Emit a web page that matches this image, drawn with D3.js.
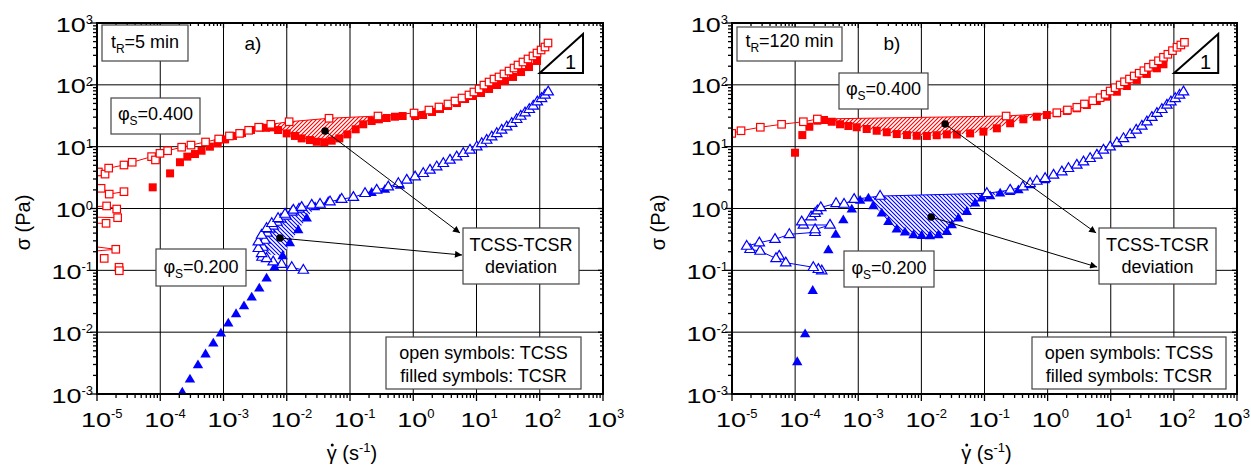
<!DOCTYPE html>
<html><head><meta charset="utf-8">
<script src="https://cdn.jsdelivr.net/npm/d3@7"></script>
<style>body{margin:0;background:#fff} text{font-family:"Liberation Sans",Arial,sans-serif;fill:#000}</style>
</head><body><svg id="c" width="1251" height="470"></svg>
<script>
// ---------- tick exponents ----------
const xTickExps = [-5,-4,-3,-2,-1,0,1,2,3];
const yTickExps = [-3,-2,-1,0,1,2,3];

// ---------- panel a) tR = 5 min ----------
const aRedOpen = [[1.05e-5,3.9],[1.34e-5,3.6],[1.53e-5,4.5],[2.67e-5,5.05],[3.6e-5,5.6],[7.3e-5,6.9],[8.4e-5,6.1],[9.9e-5,7.8],[1.31e-4,8.6],[2.18e-4,9.8],[3.06e-4,10.6],[5.2e-4,11.9],[8.4e-4,13.3],[1.24e-3,14.9],[1.8e-3,16.4],[2.5e-3,18.4],[3.6e-3,20.6],[5.6e-3,23],[0.0109,25.3],[0.0466,28.8],[0.277,31.3],[1.03,35],[1.77,39.1],[2.55,43.8],[3.54,49],[4.57,54.7],[5.9,61.2],[7.6,68.5],[9.1,76.6],[11,85.7],[13.1,99],[15.8,111],[18.9,124],[22.7,134],[27.2,150],[32.7,167],[39.2,187],[45.3,209],[54.3,234],[65.2,262],[78.2,293],[90.5,327],[105,366],[121,409],[135,475]];
const aRedOpenLow = [
  [[7e-6,2.3],[1.16e-5,2.12]],
  [[1.56e-5,1.71],[2.67e-5,1.87]],
  [[7e-6,1.05],[1.42e-5,1.1],[2.05e-5,0.98]],
  [[7e-6,0.73],[2.12e-5,0.71]],
  [[7e-6,0.58],[1.39e-5,0.576]],
  [[7e-6,0.25],[1.98e-5,0.219],[7e-6,0.2]],
  [[1.3e-5,0.156]],
  [[2.23e-5,0.112],[2.25e-5,0.0986]]
];
const aRedFilled = [[7.6e-5,2.2],[1.43e-4,3.7],[2.05e-4,5.6],[2.68e-4,6.9],[3.54e-4,7.6],[4.5e-4,8.6],[6.1e-4,10],[8.1e-4,11.3],[1.06e-3,13.1],[1.41e-3,14.9],[1.96e-3,16.6],[2.72e-3,18.6],[3.8e-3,20.4],[4.7e-3,20.2],[5.8e-3,20.5],[7.3e-3,18.6],[9.98e-3,16.4],[0.0135,14.9],[0.0172,13.6],[0.0233,12.8],[0.0298,12],[0.0393,11.8],[0.0514,12.5],[0.0678,13.6],[0.0906,15.8],[0.123,19.1],[0.162,23],[0.22,26],[0.287,27.7],[0.38,29.1],[0.514,30.5],[0.68,31.3],[1.07,31.3],[1.43,32.5],[1.98,36.4],[2.65,40.7],[3.54,45.5],[4.9,50.8],[6.6,59],[8.8,66],[11.8,73.8],[15.8,85.7],[21.1,99.4],[28.2,115],[37.8,134],[50.6,161],[67.6,194],[90.5,243]];
const aBlueOpen = [[0.0183,0.101],[0.012,0.112],[8.3e-3,0.126],[6.1e-3,0.138],[4.8e-3,0.156],[4.0e-3,0.188],[3.55e-3,0.227],[3.55e-3,0.29],[4.0e-3,0.372],[4.8e-3,0.478],[5.8e-3,0.576],[7.3e-3,0.694],[9.4e-3,0.814],[0.0127,0.946],[0.0172,1.05],[0.0248,1.14],[0.0336,1.18],[0.0483,1.29],[0.074,1.42],[0.113,1.52],[0.173,1.76],[0.264,1.99],[0.403,2.25],[0.581,2.55],[0.789,2.89],[1.07,3.27],[1.44,3.71],[1.84,4.2],[2.35,4.75],[2.99,5.38],[3.81,6.09],[4.86,6.88],[6.18,7.81],[7.89,8.84],[10.1,10],[12.1,11.3],[14.5,12.8],[17.4,14.5],[20.9,16.4],[25,18.6],[30,21],[36,23.9],[43.2,27.7],[50,31.3],[58.5,35.4],[68.4,40.2],[79,45.5],[91.5,53.4],[107,60.5],[121,68.5],[136,77.4]];
const aBlueOpen2 = [[4.06e-3,0.164],[4.2e-3,0.238],[4.5e-3,0.309],[4.9e-3,0.402],[5.4e-3,0.466],[6.1e-3,0.521],[7e-3,0.604],[8.1e-3,0.676],[9.7e-3,0.757],[0.0121,0.877],[0.0156,0.981]];
const aBlueFilled = [[2.23e-4,1.06e-3],[2.95e-4,1.73e-3],[3.95e-4,2.94e-3],[5.2e-4,4.4e-3],[6.9e-4,6.6e-3],[9.1e-4,9.6e-3],[1.19e-3,0.0139],[1.58e-3,0.0197],[2.11e-3,0.0265],[2.79e-3,0.0366],[3.68e-3,0.0512],[4.8e-3,0.0743],[6.4e-3,0.112],[8.6e-3,0.171],[0.0112,0.277],[0.0152,0.449],[0.0207,0.694],[0.028,1.06],[0.0454,1.29],[0.0695,1.41],[0.113,1.55],[0.22,1.8],[0.357,2.03],[0.618,2.35]];

// ---------- panel b) tR = 120 min ----------
const bRedOpen = [[9.9e-6,16.4],[1.39e-5,18.1],[2.81e-5,20.6],[6.1e-5,23],[1.35e-4,25.3],[2.25e-4,28],[0.22,31.3],[1.4,35.4],[2.06,39.2],[2.9,43.3],[3.83,49],[5.2,55.4],[6.79,61.9],[8.15,70.3],[9.78,79.4],[11.7,89.9],[14.1,99.4],[16.5,112],[19.8,124],[23.5,139],[28.2,154],[33.5,169],[39.6,192],[47.6,217],[57,245],[68.4,279],[80.3,312],[95,357],[112,405],[129,441],[147,487]];
const bRedFilled = [[9.96e-5,7.98],[1.3e-4,15.4],[1.68e-4,21],[2.25e-4,26.3],[2.87e-4,27],[3.8e-4,25.3],[5.15e-4,23],[6.97e-4,21.6],[9.46e-4,20.6],[1.36e-3,19.3],[1.96e-3,18.1],[2.83e-3,17.1],[4.07e-3,16],[5.9e-3,15.4],[8.45e-3,15],[0.0122,14.9],[0.0175,15.3],[0.0253,15.8],[0.0364,15.7],[0.0592,16.4],[0.0962,17.5],[0.157,19.8],[0.255,23.9],[0.413,27.7],[0.674,30.5],[0.97,32.5],[1.4,34.7],[2.01,37.8],[2.9,41.7],[4.18,47.2],[6.02,54.7],[8.67,64.3],[12.5,77.4],[18,95.7],[25.9,120],[37.3,150],[53.8,185],[68.4,215]];
const bBlueOpen = [[2.64e-4,0.0986],[2.33e-4,0.104],[1.94e-4,0.112],[7.1e-5,0.133],[5.6e-5,0.171],[4.98e-5,0.156],[2.78e-5,0.205],[1.93e-5,0.219],[1.71e-5,0.247],[2.71e-5,0.28],[4.8e-5,0.318],[8.1e-5,0.382],[2.07e-4,0.412],[2.07e-4,0.457],[3.57e-4,0.541],[1.35e-4,0.541],[1.27e-4,0.611],[1.79e-4,0.736],[2.07e-4,0.836],[2.25e-4,0.92],[2.55e-4,1.04],[4.45e-4,1.21],[5.96e-4,1.18],[8.6e-4,1.41],[2.22e-3,1.59],[0.109,1.76],[0.255,1.99],[0.405,2.25],[0.528,2.55],[0.675,2.78],[0.913,3.08],[1.24,3.48],[1.68,3.94],[2.14,4.47],[2.9,5.05],[3.7,5.71],[4.72,6.48],[6.03,7.33],[7.66,8.83],[9.78,9.98],[12.5,11.6],[15.9,13.6],[20.3,15.8],[25.3,18.6],[31.1,21.6],[37.3,25.3],[44.8,29.9],[53.8,34.7],[64.6,40.2],[77.5,47.2],[89.7,53.4],[105,60.5],[123,68.5],[142,77.4]];
const bBlueFilled = [[1.08e-4,3.3e-3],[1.44e-4,9.3e-3],[1.9e-4,0.0468],[3.36e-4,0.213],[4.4e-4,0.38],[5.8e-4,0.651],[7.9e-4,0.97],[1.07e-3,1.34],[1.45e-3,1.46],[1.73e-3,1.1],[2.36e-3,0.836],[3e-3,0.611],[4.07e-3,0.46],[5.5e-3,0.412],[7.5e-3,0.372],[0.0101,0.363],[0.0137,0.359],[0.0186,0.372],[0.0253,0.421],[0.0303,0.541],[0.0386,0.694],[0.0524,0.887],[0.071,1.21],[0.0906,1.46],[0.123,1.59],[0.177,1.76],[0.255,1.87],[0.345,1.99],[0.528,2.4],[0.913,2.89]];

// annotation anchors (data coordinates): dot -> arrow end
const aArrows = [[[0.0403,17.9],[5.48,0.402]],[[7.8e-3,0.333],[5.9,0.177]]];
const bArrows = [[[0.0238,23.2],[5.87,0.402]],[[0.0143,0.728],[6.08,0.113]]];
const aSlope = [[100,155],[483,664],[483,155]];
const bSlope = [[101,155],[504,664],[504,155]];

const RED = '#ff0000', BLUE = '#0000ff';
const W = 1251;
const svg = d3.select('#c');
const defs = svg.append('defs');
function hatch(id, color, dir){
  const p = defs.append('pattern').attr('id',id).attr('patternUnits','userSpaceOnUse').attr('width',4).attr('height',4);
  p.append('rect').attr('width',4).attr('height',4).attr('fill','#fff');
  const d = dir==='/' ? 'M-1,1 L1,-1 M0,4 L4,0 M3,5 L5,3' : 'M-1,3 L1,5 M0,0 L4,4 M3,-1 L5,1';
  p.append('path').attr('d',d).attr('stroke',color).attr('stroke-width',1.1);
}
hatch('hR','#ff0000','/');
hatch('hB','#0000ff','\\');
defs.append('marker').attr('id','arr').attr('viewBox','0 0 10 10').attr('refX',10).attr('refY',5)
  .attr('markerWidth',11).attr('markerHeight',7).attr('markerUnits','userSpaceOnUse').attr('orient','auto')
  .append('path').attr('d','M0,0 L10,5 L0,10 Z').attr('fill','#000');

const sqOpen = 7.5, triPath = 'M0,-5.6 L5.2,3.2 L-5.2,3.2 Z';

function panel(cfg){
  const {x0,x1,y0,y1,id} = cfg;
  const x = d3.scaleLog().domain([1e-5,1e3]).range([x0,x1]);
  const y = d3.scaleLog().domain([1e-3,1e3]).range([y1,y0]);
  const g = svg.append('g');
  defs.append('clipPath').attr('id','clip'+id).append('rect').attr('x',x0).attr('y',y0).attr('width',x1-x0).attr('height',y1-y0);
  // grid
  xTickExps.slice(1,-1).forEach(e=>{
    g.append('line').attr('x1',x(10**e)).attr('x2',x(10**e)).attr('y1',y0).attr('y2',y1).attr('stroke','#000').attr('stroke-width',1);
  });
  yTickExps.slice(1,-1).forEach(e=>{
    g.append('line').attr('y1',y(10**e)).attr('y2',y(10**e)).attr('x1',x0).attr('x2',x1).attr('stroke','#000').attr('stroke-width',1);
  });
  // ticks
  const tk = g.append('g').attr('stroke','#000').attr('stroke-width',1.3);
  xTickExps.forEach((e,i)=>{
    const xs=[[10**e,7,5]];
    if(i<xTickExps.length-1) for(let m=2;m<10;m++) xs.push([m*10**e,4,3]);
    xs.forEach(([v,lo,li])=>{
      const px=x(v);
      tk.append('line').attr('x1',px).attr('x2',px).attr('y1',y1).attr('y2',y1+lo);
      tk.append('line').attr('x1',px).attr('x2',px).attr('y1',y0).attr('y2',y0+li);
    });
  });
  yTickExps.forEach((e,i)=>{
    const ys=[[10**e,7,5]];
    if(i<yTickExps.length-1) for(let m=2;m<10;m++) ys.push([m*10**e,4,3]);
    ys.forEach(([v,lo,li])=>{
      const py=y(v);
      tk.append('line').attr('y1',py).attr('y2',py).attr('x1',x0).attr('x2',x0-lo);
      tk.append('line').attr('y1',py).attr('y2',py).attr('x1',x1).attr('x2',x1-li);
    });
  });
  // tick labels
  const tl = g.append('g');
  xTickExps.forEach(e=>{
    const px=x(10**e);
    let st=px-1-15;
    const ex=tl.append('text').attr('y',y1+24).attr('font-size',13).text(String(e));
    const w=ex.node().getComputedTextLength();
    if(st+30+w>W-1) st=W-1-30-w;
    ex.attr('x',st+30);
    tl.append('text').attr('x',st).attr('y',y1+33).attr('font-size',20).attr('textLength',30).attr('lengthAdjust','spacingAndGlyphs').text('10');
  });
  yTickExps.forEach(e=>{
    const py=y(10**e);
    const t=tl.append('text').attr('x',x0-4).attr('y',py+1).attr('text-anchor','end').attr('font-size',13).text(String(e));
    const w=t.node().getComputedTextLength();
    tl.append('text').attr('x',x0-4-w-30).attr('y',py+8.5).attr('font-size',20).attr('textLength',30).attr('lengthAdjust','spacingAndGlyphs').text('10');
  });
  // axis titles
  const yt = g.append('text').attr('transform',`translate(${x0-67},${(y0+y1)/2+14}) rotate(-90)`).attr('text-anchor','middle').attr('font-size',20);
  yt.append('tspan').text('σ (Pa)');
  const xt = g.append('text').attr('x',(x0+x1)/2+2).attr('y',y1+66).attr('text-anchor','middle').attr('font-size',20);
  xt.append('tspan').text('γ (s');
  xt.append('tspan').attr('dy',-8).attr('font-size',13).text('-1');
  xt.append('tspan').attr('dy',8).text(')');
  const ext = xt.node().getExtentOfChar(0);
  g.append('circle').attr('cx',ext.x+ext.width/2+0.5).attr('cy',y1+51).attr('r',1.5).attr('fill','#000');

  // data
  const d = g.append('g').attr('clip-path',`url(#clip${id})`);
  const line = d3.line().x(p=>x(p[0])).y(p=>y(p[1]));
  cfg.hatches.forEach(h=>{
    const poly = h.top.concat(h.bottom.slice().reverse());
    d.append('path').attr('d',line(poly)+'Z').attr('fill',`url(#${h.pat})`).attr('stroke','none');
  });
  function filledSq(arr,color){
    d.selectAll(null).data(arr).enter().append('rect')
      .attr('x',p=>x(p[0])-4).attr('y',p=>y(p[1])-4).attr('width',8).attr('height',8).attr('fill',color);
  }
  function filledTri(arr,color){
    d.selectAll(null).data(arr).enter().append('path').attr('d',triPath)
      .attr('transform',p=>`translate(${x(p[0])},${y(p[1])})`).attr('fill',color);
  }
  function openSq(arr,color,withLine=true){
    if(withLine) d.append('path').attr('d',line(arr)).attr('fill','none').attr('stroke',color).attr('stroke-width',1);
    d.selectAll(null).data(arr.filter(p=>p[0]>=1e-5*0.97)).enter().append('rect')
      .attr('x',p=>x(p[0])-sqOpen/2).attr('y',p=>y(p[1])-sqOpen/2).attr('width',sqOpen).attr('height',sqOpen)
      .attr('fill','#fff').attr('stroke',color).attr('stroke-width',1.2);
  }
  function openTri(arr,color){
    d.append('path').attr('d',line(arr)).attr('fill','none').attr('stroke',color).attr('stroke-width',1);
    d.selectAll(null).data(arr).enter().append('path').attr('d',triPath)
      .attr('transform',p=>`translate(${x(p[0])},${y(p[1])})`).attr('fill','#fff').attr('stroke',color).attr('stroke-width',1.2);
  }
  filledSq(cfg.redFilled,RED);
  filledTri(cfg.blueFilled,BLUE);
  if(cfg.redLow) cfg.redLow.forEach(grp=>openSq(grp,RED));
  openSq(cfg.redOpen,RED);
  if(cfg.blueOpen2) openTri(cfg.blueOpen2,BLUE);
  openTri(cfg.blueOpen,BLUE);

  // frame
  g.append('rect').attr('x',x0).attr('y',y0).attr('width',x1-x0).attr('height',y1-y0).attr('fill','none').attr('stroke','#000').attr('stroke-width',2);

  // arrows
  cfg.arrows.forEach(([s,e])=>{
    g.append('line').attr('x1',x(s[0])).attr('y1',y(s[1])).attr('x2',x(e[0])).attr('y2',y(e[1]))
      .attr('stroke','#000').attr('stroke-width',1).attr('marker-end','url(#arr)');
    g.append('circle').attr('cx',x(s[0])).attr('cy',y(s[1])).attr('r',3.8).attr('fill','#000');
  });
  // slope triangle
  g.append('path').attr('d',line(cfg.slope)+'Z').attr('fill','#fff').attr('stroke','#000').attr('stroke-width',2);
  g.append('text').attr('x',x(cfg.slope[1][0])-7).attr('y',y(cfg.slope[2][1])-4).attr('text-anchor','end').attr('font-size',20).text('1');

  // boxes
  function box(b){
    g.append('rect').attr('x',x0+b[0]).attr('y',y0+b[1]).attr('width',b[2]).attr('height',b[3])
      .attr('fill','#fff').attr('stroke','#444').attr('stroke-width',1.2);
  }
  const L = cfg.layout;
  box(L.tr);
  const t1 = g.append('text').attr('x',x0+L.tr[0]+L.tr[2]/2).attr('y',y0+L.trBase).attr('text-anchor','middle').attr('font-size',18);
  t1.append('tspan').text('t'); t1.append('tspan').attr('dy',5).attr('font-size',12).text('R');
  t1.append('tspan').attr('dy',-5).text(cfg.trText);
  g.append('text').attr('x',x0+L.lab[0]).attr('y',y0+L.lab[1]).attr('text-anchor','middle').attr('font-size',19).text(cfg.label);
  [[L.phi4,L.phi4Base,'=0.400'],[L.phi2,L.phi2Base,'=0.200']].forEach(([b,base,txt])=>{
    box(b);
    const t = g.append('text').attr('x',x0+b[0]+b[2]/2).attr('y',y0+base).attr('text-anchor','middle').attr('font-size',18);
    t.append('tspan').text('φ'); t.append('tspan').attr('dy',5).attr('font-size',12).text('S');
    t.append('tspan').attr('dy',-5).text(txt);
  });
  box(L.dev);
  g.append('text').attr('x',x0+L.dev[0]+L.dev[2]/2).attr('y',y0+L.dev[1]+23).attr('text-anchor','middle').attr('font-size',18).text('TCSS-TCSR');
  g.append('text').attr('x',x0+L.dev[0]+L.dev[2]/2).attr('y',y0+L.dev[1]+45).attr('text-anchor','middle').attr('font-size',18).text('deviation');
  box(L.leg);
  g.append('text').attr('x',x0+L.leg[0]+L.leg[2]/2).attr('y',y0+L.leg[1]+22).attr('text-anchor','middle').attr('font-size',18).text('open symbols: TCSS');
  g.append('text').attr('x',x0+L.leg[0]+L.leg[2]/2).attr('y',y0+L.leg[1]+45).attr('text-anchor','middle').attr('font-size',18).text('filled symbols: TCSR');
}

panel({id:'a',x0:97,x1:603,y0:23,y1:394,
  redOpen:aRedOpen, redLow:aRedOpenLow, redFilled:aRedFilled, blueOpen:aBlueOpen, blueOpen2:aBlueOpen2, blueFilled:aBlueFilled,
  hatches:[{top:aRedOpen.slice(16,21),bottom:aRedFilled.slice(12,29),pat:'hR'},
           {top:aBlueOpen.slice(5,15),bottom:aBlueFilled.slice(13,18),pat:'hB'}],
  arrows:aArrows, slope:aSlope, trText:'=5 min', label:'a)',
  layout:{tr:[5,2,86,36],trBase:25,lab:[156,27],phi4:[14,75,89,36],phi4Base:97,phi2:[59,226,90,37],phi2Base:250,dev:[366,205,116,56],leg:[289,314,195,52]}
});
panel({id:'b',x0:732,x1:1237,y0:23,y1:394,
  redOpen:bRedOpen, redFilled:bRedFilled, blueOpen:bBlueOpen, blueFilled:bBlueFilled,
  hatches:[{top:bRedOpen.slice(5,8),bottom:bRedFilled.slice(4,27),pat:'hR'},
           {top:bBlueOpen.slice(23,27),bottom:bBlueFilled.slice(7,27),pat:'hB'}],
  arrows:bArrows, slope:bSlope, trText:'=120 min', label:'b)',
  layout:{tr:[5,4,105,34],trBase:24,lab:[160,27],phi4:[107,50,89,36],phi4Base:72,phi2:[112,228,90,36],phi2Base:251,dev:[367,205,117,56],leg:[300,314,194,52]}
});
</script></body></html>
